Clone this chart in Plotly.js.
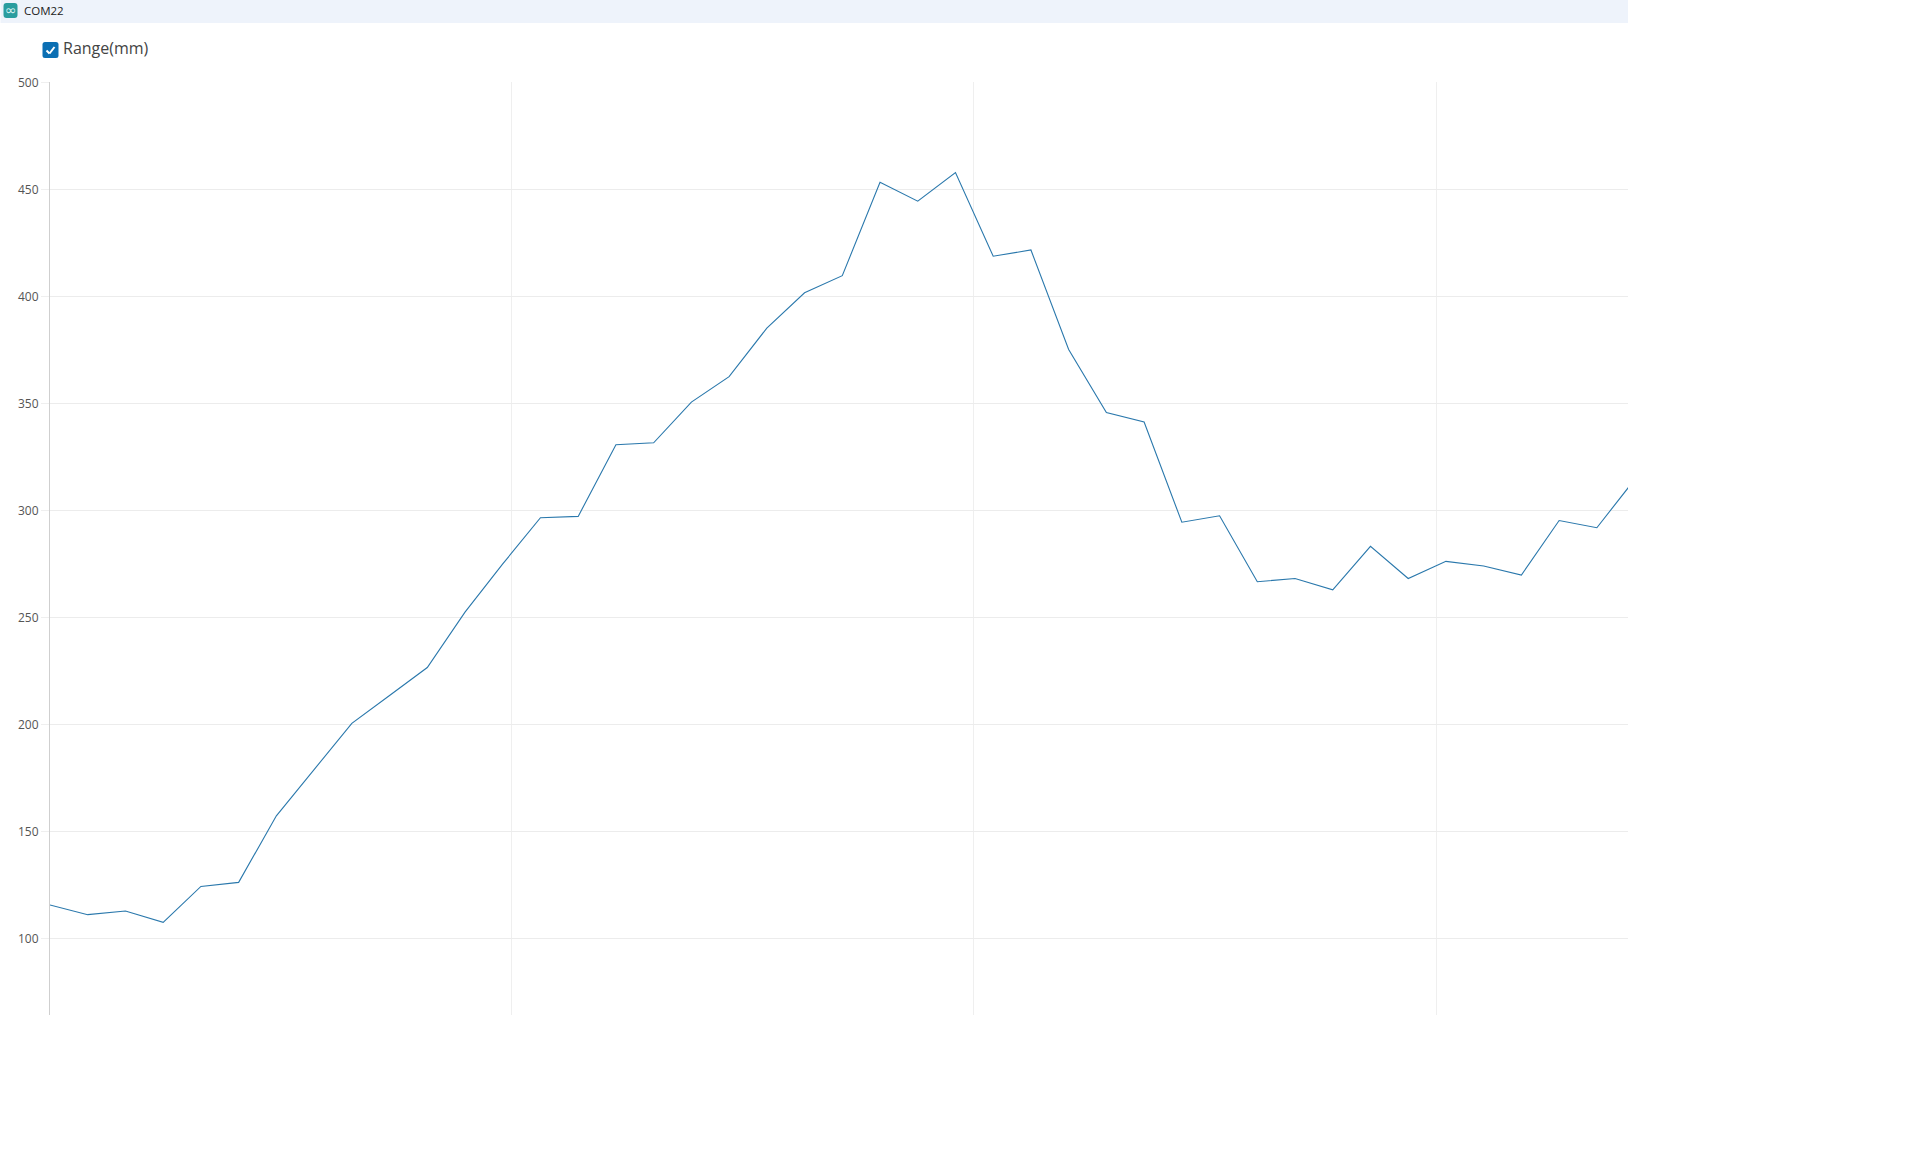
<!DOCTYPE html>
<html><head><meta charset="utf-8">
<script src="https://cdn.plot.ly/plotly-3.0.1.min.js"></script>
<style>html,body{margin:0;padding:0;background:#fff}#c{width:1915px;height:1149px}</style>
</head><body><div id="c"></div>
<script>
const seriesName = 'Range(mm)';
const portName = 'COM22';
const sampleIndex = [0,1,2,3,4,5,6,7,8,9,10,11,12,13,14,15,16,17,18,19,20,21,22,23,24,25,26,27,28,29,30,31,32,33,34,35,36,37,38,39,40,41,42];
const rangeValues = [115.6,111.1,112.8,107.5,124.3,126.2,157.3,178.7,200.5,213.5,226.6,252.5,275,296.6,297.2,330.7,331.6,350.6,362.5,385.2,401.7,409.7,453.3,444.5,457.9,418.8,421.7,375.2,345.8,341.3,294.5,297.5,266.7,268.2,262.9,283.2,268.2,276.2,274,269.8,295.3,291.9,314.4];
const yTicks = [100,150,200,250,300,350,400,450,500];
const xGridTicks = [0,12.236,24.49,36.75];

const W=1915,H=1149,L=49.5,R=1628,T=82,B=1015;
const pw=R-L, ph=B-T;
const X=p=>(p-L)/pw, Y=p=>(B-p)/ph;
const box=(x0,y0,x1,y1,fill)=>({type:'rect',xref:'paper',yref:'paper',layer:'above',
  x0:X(x0),x1:X(x1),y0:Y(y1),y1:Y(y0),fillcolor:fill,line:{width:0}});
const round=(x0,y0,x1,y1,r,fill)=>({type:'path',xref:'paper',yref:'paper',layer:'above',fillcolor:fill,line:{width:0},
  path:`M${X(x0+r)},${Y(y0)} L${X(x1-r)},${Y(y0)} Q${X(x1)},${Y(y0)} ${X(x1)},${Y(y0+r)} L${X(x1)},${Y(y1-r)} Q${X(x1)},${Y(y1)} ${X(x1-r)},${Y(y1)} L${X(x0+r)},${Y(y1)} Q${X(x0)},${Y(y1)} ${X(x0)},${Y(y1-r)} L${X(x0)},${Y(y0+r)} Q${X(x0)},${Y(y0)} ${X(x0+r)},${Y(y0)} Z`});
const seg=(x0,y0,x1,y1,c,w)=>({type:'line',xref:'paper',yref:'paper',layer:'above',x0:X(x0),x1:X(x1),y0:Y(y0),y1:Y(y1),line:{color:c,width:w}});

Plotly.newPlot('c',[{
  x:sampleIndex,y:rangeValues,type:'scatter',mode:'lines',name:seriesName,
  line:{color:'#2a78ac',width:1.1,shape:'linear'},hoverinfo:'x+y'
}],{
  width:W,height:H,showlegend:false,paper_bgcolor:'#fff',plot_bgcolor:'#fff',
  margin:{l:L,r:W-R,t:T,b:H-B,pad:0},
  font:{family:'"Open Sans",sans-serif',color:'#4d4d4d',size:12},
  xaxis:{range:[0,(R-L)/37.74],tickmode:'array',tickvals:xGridTicks,ticktext:['','','',''],ticks:'',
    showgrid:true,gridcolor:'#efefef',gridwidth:1,zeroline:false,showline:false},
  yaxis:{range:[500.2-(B-T)/2.14,500.2],tickmode:'array',tickvals:yTicks,ticks:'outside',ticklen:8,tickcolor:'#efefef',
    tickfont:{size:12,color:'#555'},showgrid:true,gridcolor:'#ececec',gridwidth:1,zeroline:false,
    showline:true,linecolor:'#cfcfcf',linewidth:1},
  shapes:[
    box(0,0,R,23,'#eef3fb'),
    round(3,3,17,18,3,'#2a9d9f'),
    round(42,42,58,58,2.5,'#0b6fb3'),
    seg(46,50.5,49,53.5,'#fff',2),
    seg(49,53.5,54,47,'#fff',2)
  ],
  annotations:[
    {xref:'paper',yref:'paper',x:X(10),y:Y(10.5),text:'∞',showarrow:false,xanchor:'center',yanchor:'middle',font:{size:14,color:'#d8f2f2',family:'DejaVu Sans'}},
    {xref:'paper',yref:'paper',x:X(21),y:Y(11),text:portName,showarrow:false,xanchor:'left',yanchor:'middle',font:{size:11.5,color:'#222',family:'"Open Sans",sans-serif'}},
    {xref:'paper',yref:'paper',x:X(61),y:Y(47.5),text:seriesName,showarrow:false,xanchor:'left',yanchor:'middle',font:{size:16,color:'#444',family:'"Open Sans",sans-serif'}}
  ]
},{displayModeBar:false});
</script></body></html>
